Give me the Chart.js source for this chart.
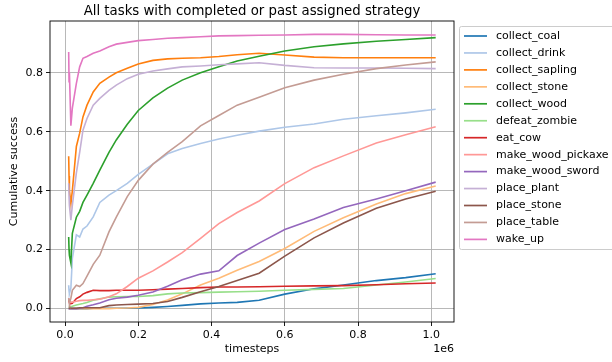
<!DOCTYPE html>
<html>
<head>
<meta charset="utf-8">
<script src="https://cdn.jsdelivr.net/npm/chart.js@4.4.0/dist/chart.umd.min.js"></script>
<style>
    html, body { margin: 0; padding: 0; background: #fff; }
    canvas { display: block; }
</style>
</head>
<body>
<canvas id="chart" width="612" height="362"></canvas>
<script>
// Cumulative success per task vs timesteps

const TIMESTEPS = [10000, 11000, 12000, 16000, 20000, 31000, 40000, 49000, 60000, 77000, 95000,
    120000, 140000, 170000, 200000, 240000, 280000, 320000, 370000, 420000, 470000, 530000,
    600000, 680000, 760000, 850000, 930000, 1012000];

const collectCoal = [0, 0, 0, 0, 0, 0, 0, 0, 0, 0.001, 0.001, 0.001, 0.001, 0.001, 0.002, 0.004,
    0.007, 0.011, 0.016, 0.019, 0.021, 0.028, 0.049, 0.067, 0.08, 0.095, 0.105, 0.118];
const collectDrink = [0.079, 0.06, 0.05, 0.07, 0.17, 0.25, 0.243, 0.27, 0.28, 0.311, 0.36, 0.385,
    0.40, 0.425, 0.455, 0.49, 0.525, 0.543, 0.56, 0.575, 0.588, 0.602, 0.615, 0.626, 0.642, 0.654, 0.664, 0.676];
const collectSapling = [0.517, 0.45, 0.40, 0.355, 0.40, 0.55, 0.595, 0.65, 0.69, 0.735, 0.764, 0.785,
    0.80, 0.815, 0.83, 0.842, 0.847, 0.849, 0.851, 0.855, 0.861, 0.866, 0.86, 0.853, 0.851, 0.851, 0.851, 0.851];
const collectStone = [0, 0, 0, 0, 0, 0, 0, 0, 0, 0, 0, 0, 0.001, 0.002, 0.004, 0.014, 0.029, 0.05,
    0.08, 0.103, 0.13, 0.16, 0.204, 0.262, 0.308, 0.355, 0.39, 0.416];
const collectWood = [0.243, 0.20, 0.18, 0.155, 0.255, 0.31, 0.33, 0.36, 0.385, 0.425, 0.47, 0.53,
    0.572, 0.625, 0.672, 0.715, 0.748, 0.775, 0.80, 0.82, 0.84, 0.856, 0.874, 0.888, 0.898, 0.907, 0.913, 0.919];
const defeatZombie = [0.005, 0.005, 0.005, 0.006, 0.008, 0.012, 0.015, 0.017, 0.021, 0.028, 0.033,
    0.039, 0.04, 0.041, 0.041, 0.044, 0.05, 0.053, 0.054, 0.056, 0.057, 0.059, 0.062, 0.065, 0.068, 0.08, 0.09, 0.102];
const eatCow = [0.034, 0.025, 0.02, 0.017, 0.018, 0.034, 0.04, 0.049, 0.055, 0.062, 0.061, 0.061,
    0.062, 0.062, 0.062, 0.064, 0.066, 0.068, 0.071, 0.073, 0.073, 0.074, 0.076, 0.077, 0.078, 0.081, 0.084, 0.087];
const makeWoodPickaxe = [0.034, 0.03, 0.027, 0.022, 0.022, 0.025, 0.027, 0.028, 0.028, 0.03, 0.032,
    0.04, 0.05, 0.075, 0.103, 0.128, 0.158, 0.19, 0.238, 0.288, 0.326, 0.365, 0.424, 0.478, 0.518, 0.562, 0.59, 0.617];
const makeWoodSword = [0, 0, 0, 0, 0, 0, 0.001, 0.003, 0.008, 0.013, 0.019, 0.03, 0.035, 0.039,
    0.045, 0.056, 0.076, 0.098, 0.117, 0.128, 0.18, 0.222, 0.268, 0.304, 0.343, 0.372, 0.40, 0.429];
const placePlant = [0.425, 0.38, 0.35, 0.30, 0.35, 0.46, 0.53, 0.605, 0.645, 0.69, 0.713, 0.74,
    0.758, 0.78, 0.795, 0.806, 0.813, 0.82, 0.823, 0.827, 0.83, 0.834, 0.825, 0.817, 0.816, 0.816, 0.815, 0.814];
const placeStone = [0.001, 0.001, 0.001, 0.001, 0.001, 0.001, 0.003, 0.003, 0.003, 0.003, 0.003,
    0.01, 0.012, 0.014, 0.015, 0.017, 0.024, 0.038, 0.057, 0.075, 0.095, 0.12, 0.178, 0.24, 0.29, 0.34, 0.372, 0.398];
const placeTable = [0.035, 0.025, 0.02, 0.035, 0.062, 0.079, 0.075, 0.085, 0.11, 0.15, 0.181, 0.26,
    0.31, 0.38, 0.435, 0.49, 0.53, 0.566, 0.62, 0.655, 0.69, 0.717, 0.749, 0.775, 0.795, 0.814, 0.826, 0.837];
const wakeUp = [0.87, 0.77, 0.80, 0.62, 0.68, 0.764, 0.82, 0.849, 0.855, 0.866, 0.874, 0.888, 0.897,
    0.903, 0.909, 0.913, 0.917, 0.919, 0.922, 0.925, 0.926, 0.927, 0.928, 0.93, 0.93, 0.929, 0.928, 0.928];

const TASKS = ['collect_coal', 'collect_drink', 'collect_sapling', 'collect_stone', 'collect_wood',
    'defeat_zombie', 'eat_cow', 'make_wood_pickaxe', 'make_wood_sword', 'place_plant',
    'place_stone', 'place_table', 'wake_up'];
const SERIES = [collectCoal, collectDrink, collectSapling, collectStone, collectWood, defeatZombie,
    eatCow, makeWoodPickaxe, makeWoodSword, placePlant, placeStone, placeTable, wakeUp];
const COLORS = ['#1f77b4', '#aec7e8', '#ff7f0e', '#ffbb78', '#2ca02c', '#98df8a', '#d62728',
    '#ff9896', '#9467bd', '#c5b0d5', '#8c564b', '#c49c94', '#e377c2'];

const X_TICKS = [0, 200000, 400000, 600000, 800000, 1000000];
const Y_TICKS = [0, 0.2, 0.4, 0.6, 0.8];

const FONT = 'DejaVu Sans';

// title, axis labels, offset text, frame and legend, matplotlib style
const decorations = {
    id: 'decorations',
    afterDraw(chart) {
        const { ctx, chartArea: a } = chart;
        ctx.save();

        ctx.strokeStyle = '#000';
        ctx.lineWidth = 0.9;
        ctx.strokeRect(a.left, a.top, a.right - a.left, a.bottom - a.top);

        ctx.fillStyle = '#000';
        ctx.textAlign = 'center';
        ctx.textBaseline = 'alphabetic';
        ctx.font = `13.3px "${FONT}"`;
        ctx.fillText('All tasks with completed or past assigned strategy', (a.left + a.right) / 2, 15);

        ctx.font = `11px "${FONT}"`;
        ctx.fillText('timesteps', (a.left + a.right) / 2, 352);
        ctx.textAlign = 'right';
        ctx.fillText('1e6', a.right, 352);

        ctx.save();
        ctx.translate(17, (a.top + a.bottom) / 2);
        ctx.rotate(-Math.PI / 2);
        ctx.textAlign = 'center';
        ctx.fillText('Cumulative success', 0, 0);
        ctx.restore();

        // legend
        const lx = 459.5, ly = 26.5, rowH = 16.95;
        ctx.fillStyle = 'rgba(255,255,255,0.8)';
        ctx.strokeStyle = '#cccccc';
        ctx.lineWidth = 1;
        ctx.beginPath();
        ctx.roundRect(lx, ly, 170, 223, 2);
        ctx.fill();
        ctx.stroke();

        ctx.textAlign = 'left';
        ctx.textBaseline = 'middle';
        TASKS.forEach((name, i) => {
            const y = ly + 9.5 + i * rowH;
            ctx.strokeStyle = COLORS[i];
            ctx.lineWidth = 1.7;
            ctx.beginPath();
            ctx.moveTo(464, y);
            ctx.lineTo(487, y);
            ctx.stroke();
            ctx.fillStyle = '#000';
            ctx.fillText(name, 496, y);
        });

        ctx.restore();
    }
};

const datasets = TASKS.map((name, i) => ({
    label: name,
    data: TIMESTEPS.map((t, j) => ({ x: t, y: SERIES[i][j] })),
    borderColor: COLORS[i],
    backgroundColor: COLORS[i],
    borderWidth: 1.6,
    pointRadius: 0,
    tension: 0,
    fill: false,
    order: TASKS.length - i
}));

new Chart(document.getElementById('chart'), {
    type: 'line',
    data: { datasets },
    options: {
        responsive: false,
        animation: false,
        layout: { padding: { left: 0, top: 21, right: 158, bottom: 0 } },
        plugins: {
            legend: { display: false },
            tooltip: { enabled: false },
            title: { display: false }
        },
        scales: {
            x: {
                type: 'linear',
                min: -41000,
                max: 1062000,
                afterFit: (scale) => { scale.height = 40; },
                afterBuildTicks: (scale) => { scale.ticks = X_TICKS.map(v => ({ value: v })); },
                ticks: {
                    font: { family: FONT, size: 11 },
                    color: '#000',
                    padding: 3,
                    maxRotation: 0,
                    callback: (value) => (value / 1e6).toFixed(1)
                },
                grid: { color: '#b0b0b0', lineWidth: 0.9, tickLength: 4, tickColor: '#000', tickWidth: 0.9 },
                border: { display: false }
            },
            y: {
                min: -0.0455,
                max: 0.9755,
                afterFit: (scale) => { scale.width = 50; },
                afterBuildTicks: (scale) => { scale.ticks = Y_TICKS.map(v => ({ value: v })); },
                ticks: {
                    font: { family: FONT, size: 11 },
                    color: '#000',
                    padding: 3,
                    callback: (value) => value.toFixed(1)
                },
                grid: { color: '#b0b0b0', lineWidth: 0.9, tickLength: 4, tickColor: '#000', tickWidth: 0.9 },
                border: { display: false }
            }
        }
    },
    plugins: [decorations]
});
</script>
</body>
</html>
